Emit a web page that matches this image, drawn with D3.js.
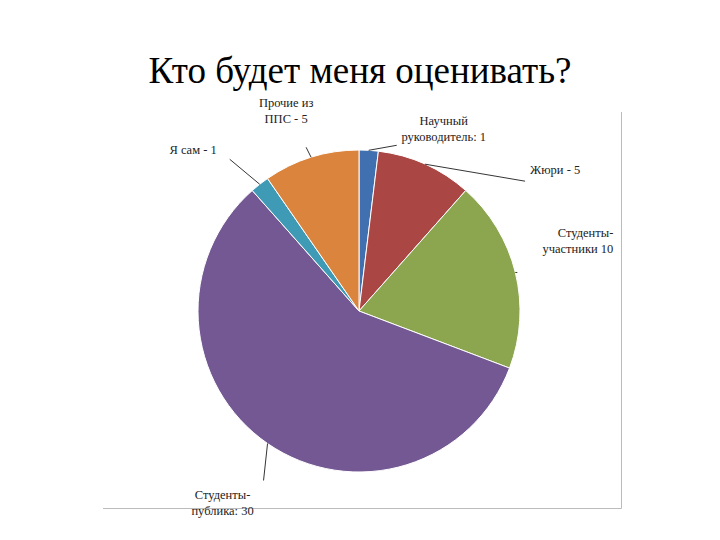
<!DOCTYPE html>
<html><head><meta charset="utf-8">
<script src="https://cdn.jsdelivr.net/npm/d3@7"></script>
<style>
body{margin:0;background:#fff}
text{font-family:"Liberation Serif","DejaVu Serif",serif}
</style></head>
<body><svg id="chart" width="720" height="540"></svg>
<script>
const categories = ['Научный руководитель', 'Жюри', 'Студенты-участники', 'Студенты-публика', 'Я сам', 'Прочие из ППС'];
const values = [1, 5, 10, 30, 1, 5];
const labelLines = [
  ['Научный', 'руководитель: 1'],
  ['Жюри -  5'],
  ['Студенты-', 'участники 10'],
  ['Студенты-', 'публика: 30'],
  ['Я сам -  1'],
  ['Прочие из', 'ППС -  5']
];
const colors = ['#4170b0', '#aa4643', '#8ba64f', '#735893', '#3f9bb5', '#db843d'];

// label placement: offset from outer arc point, anchor, leader end offset
const labelLayout = [
  { dx: 75, dy: -25, anchor: 'middle', lx: 28, ly: -5 },
  { dx: 105, dy: 10, anchor: 'start', lx: 100, ly: 17 },
  { dx: 98, dy: -35, anchor: 'end', lx: 2, ly: 0 },
  { dx: -45, dy: 55, anchor: 'middle', lx: -4, ly: 37 },
  { dx: -43, dy: -30, anchor: 'end', lx: -30, ly: -25 },
  { dx: -25, dy: -50, anchor: 'middle', lx: -5, ly: -10 }
];

const svg = d3.select('#chart');
const cx = 359, cy = 311, r = 161;

svg.append('text').attr('x', 360).attr('y', 83).attr('text-anchor', 'middle')
  .style('font-size', '37px').text('Кто будет меня оценивать?');

svg.append('path').attr('d', 'M103,508.5 H621.5 V112').attr('fill', 'none').attr('stroke', '#bbb').attr('stroke-width', 1);

const pie = d3.pie().sort(null).value(d => d)(values);
const arc = d3.arc().innerRadius(0).outerRadius(r);
const outer = d3.arc().innerRadius(r).outerRadius(r);
const g = svg.append('g').attr('transform', `translate(${cx},${cy})`);

g.selectAll('path.slice').data(pie).join('path').attr('class', 'slice')
  .attr('d', arc).attr('fill', (d, i) => colors[i]).attr('stroke', '#fff').attr('stroke-width', 1);

pie.forEach((d, i) => {
  const [px, py] = outer.centroid(d);
  const L = labelLayout[i];
  g.append('path').attr('d', `M${px},${py}L${px + L.lx},${py + L.ly}`)
    .attr('stroke', '#000').attr('stroke-width', 0.8).attr('fill', 'none');
  const t = g.append('text').attr('x', px + L.dx).attr('y', py + L.dy)
    .attr('text-anchor', L.anchor).style('font-size', '12.5px').attr('fill', '#222');
  labelLines[i].forEach((s, k) => t.append('tspan').attr('x', px + L.dx).attr('dy', k ? 16 : 0).text(s));
});
</script></body></html>
